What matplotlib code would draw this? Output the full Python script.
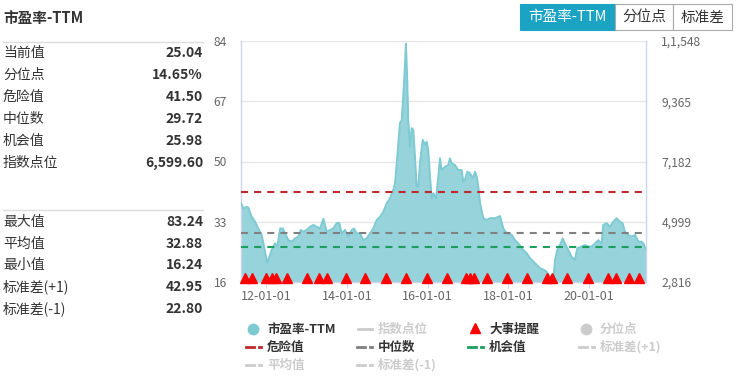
import matplotlib
matplotlib.use('Agg')
import matplotlib.pyplot as plt
import matplotlib.dates as mdates
from matplotlib.lines import Line2D
from matplotlib.patches import Rectangle
import pandas as pd

plt.rcParams['font.family'] = ['Noto Sans CJK SC', 'DejaVu Sans']

# ---------------- 数据 ----------------
pe_dates = [
    '2011-05-19', '2011-06-09', '2011-07-09', '2011-07-24', '2011-08-24', '2011-09-23', '2011-10-22',
    '2011-11-22', '2011-12-07', '2012-01-12', '2012-01-30', '2012-02-20', '2012-03-22', '2012-04-12',
    '2012-05-07', '2012-05-31', '2012-06-21', '2012-07-21', '2012-08-20', '2012-09-19', '2012-10-19',
    '2012-11-10', '2012-12-03', '2013-01-03', '2013-02-02', '2013-03-04', '2013-04-03', '2013-05-03',
    '2013-06-02', '2013-07-03', '2013-08-02', '2013-08-31', '2013-10-01', '2013-10-24', '2013-11-15',
    '2013-12-15', '2014-01-14', '2014-02-14', '2014-03-07', '2014-03-31', '2014-04-30', '2014-05-30',
    '2014-06-29', '2014-07-29', '2014-08-28', '2014-09-28', '2014-10-28', '2014-11-26', '2014-12-27',
    '2015-01-26', '2015-02-25', '2015-03-12', '2015-03-28', '2015-04-11', '2015-04-26', '2015-05-12',
    '2015-05-26', '2015-06-11', '2015-06-19', '2015-07-01', '2015-07-10', '2015-07-26', '2015-08-10',
    '2015-08-25', '2015-09-09', '2015-09-24', '2015-10-09', '2015-10-24', '2015-11-18', '2015-12-09',
    '2015-12-24', '2016-01-07', '2016-01-23', '2016-02-07', '2016-02-22', '2016-03-17', '2016-04-07',
    '2016-04-22', '2016-05-07', '2016-06-06', '2016-07-06', '2016-07-21', '2016-08-06', '2016-09-05',
    '2016-10-04', '2016-11-04', '2016-11-19', '2016-12-04', '2016-12-25', '2017-01-19', '2017-02-13',
    '2017-03-05', '2017-03-21', '2017-04-04', '2017-04-20', '2017-05-19', '2017-06-19', '2017-07-19',
    '2017-09-02', '2017-10-18', '2017-11-16', '2017-12-17', '2018-01-31', '2018-03-02', '2018-04-01',
    '2018-05-02', '2018-06-16', '2018-07-16', '2018-08-30', '2018-10-14', '2018-11-19', '2018-12-13',
    '2019-01-12', '2019-02-11', '2019-02-27', '2019-03-19', '2019-04-19', '2019-05-07', '2019-05-28',
    '2019-06-27', '2019-07-27', '2019-08-26', '2019-09-16', '2019-10-26', '2019-11-25', '2019-12-25',
    '2020-01-24', '2020-02-23', '2020-03-24', '2020-04-24', '2020-05-08', '2020-06-08', '2020-07-08',
    '2020-08-07', '2020-09-06', '2020-10-06', '2020-10-31', '2020-11-20', '2020-12-20', '2021-01-21',
    '2021-02-20', '2021-03-22', '2021-04-22', '2021-05-06', '2021-05-30',
]
pe_values = [
    38.2, 36.8, 37.2, 37.0, 34.4, 33.0, 31.1,
    29.3, 27.0, 21.3, 23.1, 25.0, 26.9, 26.0,
    31.1, 31.1, 29.7, 27.8, 27.4, 28.3, 28.8,
    30.7, 30.2, 30.7, 31.6, 32.1, 31.6, 31.1,
    33.8, 30.2, 30.7, 31.1, 32.6, 32.7, 29.7,
    30.7, 28.8, 30.7, 31.1, 29.7, 29.7, 27.8,
    28.3, 29.7, 31.1, 33.5, 34.4, 35.8, 38.2,
    39.6, 42.0, 43.8, 49.5, 55.1, 60.8, 61.7,
    68.3, 77.7, 83.24, 73.0, 61.7, 54.2, 59.4,
    58.9, 51.3, 42.9, 42.9, 49.5, 56.1, 54.7,
    55.6, 53.2, 45.7, 39.6, 41.0, 39.6, 45.7,
    50.9, 47.6, 48.5, 49.0, 50.9, 49.5, 49.0,
    47.6, 47.6, 44.3, 44.8, 47.1, 46.7, 45.3,
    47.1, 45.7, 42.9, 38.2, 34.0, 33.5, 34.0,
    34.0, 34.6, 31.1, 29.7, 29.3, 27.8, 26.9,
    25.5, 24.1, 22.7, 21.3, 19.9, 19.4, 18.9,
    17.5, 16.24, 22.2, 25.0, 26.9, 28.3, 26.9,
    25.0, 23.1, 22.2, 25.5, 26.0, 26.4, 26.0,
    26.0, 26.9, 27.8, 26.9, 32.1, 32.6, 31.6,
    33.0, 34.0, 33.0, 32.6, 30.2, 29.3, 28.8,
    29.3, 27.4, 27.4, 26.9, 25.04,
]
event_dates = [
    '2011-06-24', '2011-08-24', '2012-01-01', '2012-02-20', '2012-03-31', '2012-07-06', '2013-01-03',
    '2013-04-24', '2013-07-03', '2013-12-21', '2014-06-17', '2014-12-18', '2015-06-19', '2015-12-27',
    '2016-06-24', '2016-12-10', '2017-01-19', '2017-02-27', '2017-06-19', '2017-12-17', '2018-06-16',
    '2018-12-19', '2019-01-28', '2019-06-18', '2019-12-25', '2020-06-23', '2020-08-28', '2020-12-28',
    '2021-03-28',
]
danger_val = 41.50
median_val = 29.72
chance_val = 25.98

left_ticks = [16, 33, 50, 67, 84]
right_ticks = [2816, 4999, 7182, 9365, 11548]
right_tick_labels = ['2,816', '4,999', '7,182', '9,365', '1,1,548']
x_tick_dates = ['2012-01-01', '2014-01-01', '2016-01-01', '2018-01-01', '2020-01-01']

top_labels = ['当前值', '分位点', '危险值', '中位数', '机会值', '指数点位']
top_values = ['25.04', '14.65%', '41.50', '29.72', '25.98', '6,599.60']
bottom_labels = ['最大值', '平均值', '最小值', '标准差(+1)', '标准差(-1)']
bottom_values = ['83.24', '32.88', '16.24', '42.95', '22.80']

# ---------------- 样式 ----------------
W, H = 737, 381
TEAL_FILL = '#96d3db'
TEAL_LINE = '#7ecad3'
RED = '#c0282d'
GREY = '#808080'
GREEN = '#1e9e5e'
LIGHT = '#cccccc'
DASH = (0, (3.4, 2.9))


def fx(x):
    return x / W


def fy(y):
    return 1 - y / H


fig = plt.figure(figsize=(W / 100, H / 100), dpi=100)
fig.patch.set_facecolor('white')

# ---------------- 主图 ----------------
ax = fig.add_axes([fx(241), fy(282), fx(646) - fx(241), fy(41) - fy(282)])
dates = pd.to_datetime(pe_dates)
ev = pd.to_datetime(event_dates)

ax.fill_between(dates, pe_values, left_ticks[0], color=TEAL_FILL, lw=0, zorder=2)
ax.plot(dates, pe_values, color=TEAL_LINE, lw=1.4, zorder=3)

ax.axhline(danger_val, color=RED, lw=1.5, ls=DASH, zorder=4)
ax.axhline(median_val, color=GREY, lw=1.5, ls=DASH, zorder=4)
ax.axhline(chance_val, color=GREEN, lw=1.5, ls=DASH, zorder=4)

ax.plot(ev, [left_ticks[0] + 1.0] * len(ev), ls='none', marker='^', ms=7.5,
        color='#ff0000', mec='#ff0000', zorder=5, clip_on=False)

ax.set_xlim(dates[0], dates[-1])
ax.set_ylim(left_ticks[0], left_ticks[-1])
ax.set_yticks(left_ticks)
ax.grid(axis='y', color='#e6e6e6', lw=1, zorder=0)
ax.set_xticks(pd.to_datetime(x_tick_dates))
ax.xaxis.set_major_formatter(mdates.DateFormatter('%y-%m-%d'))
ax.tick_params(axis='y', length=0, pad=10, labelsize=8.7, labelcolor='#666666')
ax.tick_params(axis='x', length=4, color='#ccd6eb', pad=2, labelsize=9, labelcolor='#666666')
for s in ['left', 'right', 'bottom']:
    ax.spines[s].set_color('#ccd6eb')
    ax.spines[s].set_linewidth(1)
ax.spines['top'].set_visible(False)
ax.set_axisbelow(True)

ax2 = ax.twinx()
ax2.set_ylim(right_ticks[0], right_ticks[-1])
ax2.set_yticks(right_ticks)
ax2.set_yticklabels(right_tick_labels)
ax2.tick_params(axis='y', length=0, pad=11, labelsize=8.7, labelcolor='#666666')
for s in ax2.spines.values():
    s.set_visible(False)

# ---------------- 左侧数据面板 ----------------
fig.text(fx(3), fy(18), '市盈率-TTM', fontsize=10.5, fontweight='bold', color='#333333', va='center')
fig.add_artist(Line2D([fx(3), fx(203)], [fy(41.5), fy(41.5)], color='#dddddd', lw=1))
fig.add_artist(Line2D([fx(3), fx(203)], [fy(209.5), fy(209.5)], color='#dddddd', lw=1))

for i, (lab, val) in enumerate(zip(top_labels, top_values)):
    y = 53.3 + i * 22
    fig.text(fx(3), fy(y), lab, fontsize=10, color='#333333', va='center')
    fig.text(fx(203), fy(y), val, fontsize=10, fontweight='bold', color='#333333', va='center', ha='right')
for i, (lab, val) in enumerate(zip(bottom_labels, bottom_values)):
    y = 221.7 + i * 21.8
    fig.text(fx(3), fy(y), lab, fontsize=10, color='#333333', va='center')
    fig.text(fx(203), fy(y), val, fontsize=10, fontweight='bold', color='#333333', va='center', ha='right')

# ---------------- 右上角按钮 ----------------
buttons = [('市盈率-TTM', 520, 615, True), ('分位点', 615, 673, False), ('标准差', 673, 732, False)]
for lab, x0, x1, active in buttons:
    fig.add_artist(Rectangle((fx(x0), fy(30)), fx(x1) - fx(x0), fy(4) - fy(30),
                             transform=fig.transFigure,
                             facecolor='#1ba3c4' if active else 'white',
                             edgecolor='#1ba3c4' if active else '#aaaaaa', lw=0.8))
    fig.text(fx((x0 + x1) / 2), fy(17.5), lab, fontsize=10.5, ha='center', va='center',
             color='white' if active else '#333333')

# ---------------- 图例 ----------------
def leg_text(x, y, s, active):
    fig.text(fx(x), fy(y), s, fontsize=9, fontweight='bold', va='center',
             color='#333333' if active else LIGHT)


def leg_dash(x, y, color):
    fig.add_artist(Line2D([fx(x), fx(x + 8)], [fy(y), fy(y)], color=color, lw=2))
    fig.add_artist(Line2D([fx(x + 13), fx(x + 15)], [fy(y), fy(y)], color=color, lw=2))


r1, r2, r3 = 329, 347, 365
fig.add_artist(Line2D([fx(253)], [fy(r1)], marker='o', ms=7.5, color=TEAL_LINE, ls='none'))
leg_text(267, r1, '市盈率-TTM', True)
fig.add_artist(Line2D([fx(358), fx(372)], [fy(r1), fy(r1)], color=LIGHT, lw=2))
leg_text(378, r1, '指数点位', False)
fig.add_artist(Line2D([fx(475)], [fy(r1 - 1)], marker='^', ms=7.5, color='#ff0000', ls='none'))
leg_text(489, r1, '大事提醒', True)
fig.add_artist(Line2D([fx(586)], [fy(r1)], marker='o', ms=7.5, color=LIGHT, ls='none'))
leg_text(600, r1, '分位点', False)

leg_dash(246, r2, RED)
leg_text(267, r2, '危险值', True)
leg_dash(357, r2, GREY)
leg_text(378, r2, '中位数', True)
leg_dash(468, r2, GREEN)
leg_text(489, r2, '机会值', True)
leg_dash(579, r2, LIGHT)
leg_text(600, r2, '标准差(+1)', False)

leg_dash(246, r3, LIGHT)
leg_text(267, r3, '平均值', False)
leg_dash(357, r3, LIGHT)
leg_text(378, r3, '标准差(-1)', False)

fig.savefig('out.png', dpi=100, facecolor='white')
